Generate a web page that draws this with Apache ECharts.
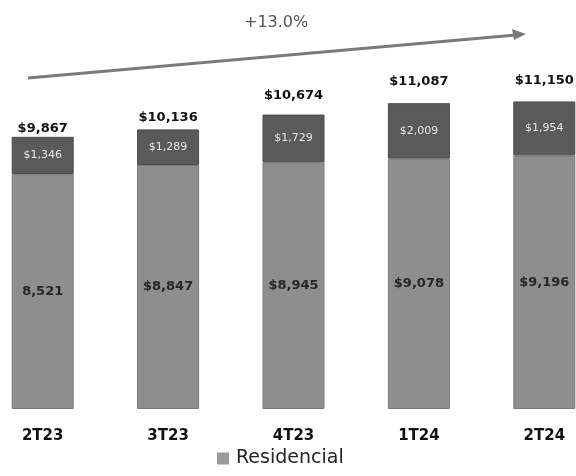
<!DOCTYPE html>
<html>
<head>
<meta charset="utf-8">
<script src="https://cdn.jsdelivr.net/npm/echarts@6/dist/echarts.min.js"></script>
<style>
  html, body { margin: 0; padding: 0; background: #ffffff; overflow: hidden; width: 576px; height: 476px; }
  /* the plot runs slightly past both page edges, so the outer bars sit flush */
  #chart { position: absolute; left: -20px; top: 0; width: 627px; height: 476px; }
</style>
</head>
<body>
<div id="chart"></div>
<script>
// Quarterly figures
const quarters = ['2T23', '3T23', '4T23', '1T24', '2T24'];
const residencial = [8521, 8847, 8945, 9078, 9196];
const otros = [1346, 1289, 1729, 2009, 1954];
const totals = [9867, 10136, 10674, 11087, 11150];
const growthLabel = '+13.0%';

// Extra lift (px) of each total label above its bar
const totalLift = [2, 5, 12, 15, 14];

const fmt = v => v.toLocaleString('en-US');
const FONT = '"DejaVu Sans", sans-serif';
const SHIFT = 20; // container offset to the left

const chart = echarts.init(document.getElementById('chart'), null, { renderer: 'canvas' });

chart.setOption({
  animation: false,
  backgroundColor: '#ffffff',
  grid: { left: 0, right: 0, bottom: 67, height: 331 },
  xAxis: {
    type: 'category',
    data: quarters,
    axisLine: { show: false },
    axisTick: { show: false },
    axisLabel: {
      margin: 20,
      color: '#111111',
      fontFamily: FONT,
      fontWeight: 'bold',
      fontSize: 15
    }
  },
  yAxis: {
    type: 'value',
    min: 0,
    max: 12000,
    show: false
  },
  legend: {
    data: ['Residencial'],
    bottom: 3,
    left: 212 + SHIFT,
    itemWidth: 12,
    itemHeight: 12,
    itemGap: 6,
    icon: 'rect',
    itemStyle: { color: '#9a9a9a', borderWidth: 0 },
    textStyle: { color: '#222222', fontFamily: FONT, fontSize: 19, padding: [0, 0, 0, 2] }
  },
  series: [
    {
      name: 'Residencial',
      type: 'bar',
      stack: 'total',
      barWidth: 62,
      data: residencial,
      itemStyle: { color: '#8e8e8e', borderColor: '#7a7a7a', borderWidth: 1 },
      label: {
        show: true,
        position: 'inside',
        color: '#262626',
        fontFamily: FONT,
        fontWeight: 'bold',
        fontSize: 13,
        formatter: p => (p.dataIndex === 0 ? '' : '$') + fmt(p.value)
      }
    },
    {
      name: 'Otros',
      type: 'bar',
      stack: 'total',
      barWidth: 62,
      data: otros,
      itemStyle: { color: '#5a5a5a', borderColor: '#4a4a4a', borderWidth: 1 },
      label: {
        show: true,
        position: 'inside',
        color: '#e6e6e6',
        fontFamily: FONT,
        fontSize: 11,
        formatter: p => '$' + fmt(p.value)
      }
    },
    {
      // invisible carrier for the total labels above each stack
      name: 'Total',
      type: 'bar',
      stack: 'total',
      barWidth: 62,
      silent: true,
      data: totals.map((t, i) => ({
        value: 0,
        label: { distance: totalLift[i], formatter: '$' + fmt(t) }
      })),
      itemStyle: { color: 'rgba(0,0,0,0)' },
      label: {
        show: true,
        position: 'top',
        color: '#111111',
        fontFamily: FONT,
        fontWeight: 'bold',
        fontSize: 13
      }
    }
  ],
  graphic: [
    {
      type: 'line',
      shape: { x1: 28 + SHIFT, y1: 78, x2: 516 + SHIFT, y2: 35 },
      style: { stroke: '#7a7a7a', lineWidth: 3 }
    },
    {
      type: 'polygon',
      shape: { points: [[526 + SHIFT, 34], [512 + SHIFT, 29], [514 + SHIFT, 40]] },
      style: { fill: '#7a7a7a' }
    },
    {
      type: 'text',
      left: 244 + SHIFT,
      top: 15,
      style: {
        text: growthLabel,
        fill: '#555555',
        font: '16px "DejaVu Sans", sans-serif'
      }
    }
  ]
});
</script>
</body>
</html>
